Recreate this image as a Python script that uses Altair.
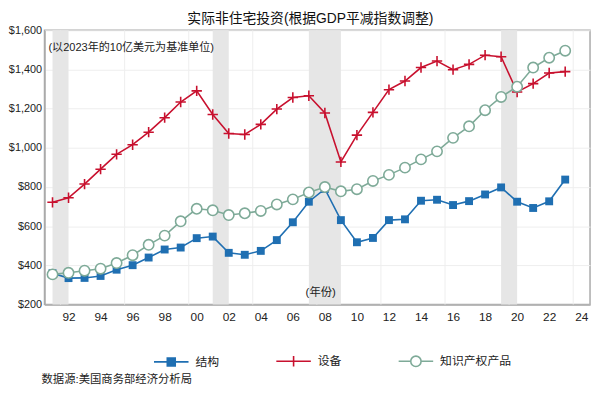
import altair as alt
import pandas as pd

# ---------------- data ----------------
years = list(range(1991, 2024))
structures = [360, 335, 336, 346, 378, 401, 440, 481, 491, 539, 547, 464, 454, 474, 529, 620,
              725, 790, 631, 518, 540, 631, 635, 730, 735, 708, 728, 762, 798, 725, 693, 727, 838]
equipment = [722, 745, 815, 891, 967, 1016, 1080, 1154, 1234, 1291, 1170, 1073, 1068, 1120, 1198, 1257,
             1266, 1178, 928, 1065, 1181, 1297, 1341, 1410, 1443, 1399, 1426, 1473, 1465, 1285, 1328, 1382, 1389]
ipp = [354, 362, 373, 383, 412, 452, 505, 552, 625, 689, 681, 657, 666, 678, 711, 737,
       772, 800, 778, 789, 831, 862, 899, 941, 982, 1051, 1110, 1192, 1260, 1312, 1410, 1460, 1496]

series_names = ["结构", "设备", "知识产权产品"]
series_colors = ["#1f6fb2", "#c8102e", "#7eaa98"]
series_fills = ["#1f6fb2", "transparent", "white"]

recession_start = [1991, 2001, 2007, 2019]
recession_end = [1992, 2002, 2009, 2020]

vgrid_years = [1991.5, 1995.5, 1999.5, 2003.5, 2007.5, 2011.5, 2015.5, 2019.5, 2023.5]
x_tick_years = list(range(1992, 2025, 2))
y_ticks = list(range(200, 1601, 200))

title_text = "实际非住宅投资(根据GDP平减指数调整)"
subtitle_text = "(以2023年的10亿美元为基准单位)"
xlabel_text = "(年份)"
source_text = "数据源:美国商务部经济分析局"

FONT = "Liberation Sans, Noto Sans CJK SC, sans-serif"

# ---------------- tables ----------------
df = pd.DataFrame({
    "year": years * 3,
    "value": structures + equipment + ipp,
    "series": [series_names[0]] * len(years) + [series_names[1]] * len(years) + [series_names[2]] * len(years),
})
bands = pd.DataFrame({"start": recession_start, "end": recession_end})
vgrid = pd.DataFrame({"g": vgrid_years})

x_scale = alt.Scale(domain=[1990.5, 2024.55], nice=False, zero=False)
y_scale = alt.Scale(domain=[200, 1600], nice=False, zero=False)

x_axis = alt.Axis(values=x_tick_years, labelExpr="substring(toString(datum.value), 2)", title=None,
                  grid=False, ticks=False, labelPadding=7, labelFontSize=12, labelColor="#222",
                  labelFont=FONT, domainColor="#aaaaaa", domainWidth=1.5)
y_axis = alt.Axis(values=y_ticks, labelExpr="'$' + format(datum.value, ',')", title=None,
                  grid=True, gridColor="#eeeeee", ticks=False, labelPadding=3, labelFontSize=11,
                  labelColor="#222", labelFont=FONT, domainColor="#aaaaaa", domainWidth=1.5)

# vertical grid lines
vgrid_layer = alt.Chart(vgrid).mark_rule(color="#eeeeee", strokeWidth=1).encode(
    x=alt.X("g:Q", scale=x_scale, axis=x_axis)
)

# recession bands
band_layer = alt.Chart(bands).mark_rect(color="#e6e6e6").encode(
    x=alt.X("start:Q", scale=x_scale, axis=x_axis),
    x2="end:Q",
)


def series_layers(name, color, point_kwargs):
    sub = df[df["series"] == name]
    line = alt.Chart(sub).mark_line(color=color, strokeWidth=1.6).encode(
        x=alt.X("year:Q", scale=x_scale, axis=x_axis),
        y=alt.Y("value:Q", scale=y_scale, axis=y_axis),
    )
    pts = alt.Chart(sub).mark_point(opacity=1, **point_kwargs).encode(
        x=alt.X("year:Q", scale=x_scale, axis=x_axis),
        y=alt.Y("value:Q", scale=y_scale, axis=y_axis),
    )
    return [line, pts]


struct_layers = series_layers(series_names[0], series_colors[0],
                              dict(shape="square", filled=True, color=series_colors[0], size=64))
equip_layers = series_layers(series_names[1], series_colors[1],
                             dict(shape="M-1,0H1M0,-1V1", filled=False, color=series_colors[1],
                                  size=110, strokeWidth=1.6))
ipp_layers = series_layers(series_names[2], series_colors[2],
                           dict(shape="circle", filled=True, fill="white", stroke=series_colors[2],
                                strokeWidth=1.6, size=110))

# legend-only layer
legend_paths = [
    "M-1,0H-0.23M0.23,0H1M-0.23,-0.23H0.23V0.23H-0.23Z",
    "M-1,0H1M0,-0.3V0.3",
    "M-1,0H-0.3M0.3,0H1M-0.3,0A0.3,0.3 0 1,0 0.3,0A0.3,0.3 0 1,0 -0.3,0Z",
]
leg = alt.Legend(title=None, orient="none", direction="horizontal", legendX=110, legendY=317,
                 symbolSize=1225, symbolStrokeWidth=1.6, labelFontSize=12, labelFont=FONT,
                 labelColor="#222", labelOffset=6, columnPadding=53, padding=0)
legend_layer = alt.Chart(df).transform_filter("false").mark_point(filled=False, opacity=1).encode(
    x=alt.X("year:Q", scale=x_scale, axis=x_axis),
    y=alt.Y("value:Q", scale=y_scale, axis=y_axis),
    color=alt.Color("series:N", scale=alt.Scale(domain=series_names, range=series_colors), legend=leg),
    fill=alt.Fill("series:N", scale=alt.Scale(domain=series_names, range=series_fills), legend=leg),
    shape=alt.Shape("series:N", scale=alt.Scale(domain=series_names, range=legend_paths), legend=leg),
)

# annotations
note_data = alt.Data(values=[{"t": 0}])
subtitle_layer = alt.Chart(note_data).mark_text(
    text=subtitle_text, align="left", baseline="middle", fontSize=11.2, font=FONT, color="#222"
).encode(x=alt.value(4), y=alt.value(18))
xlabel_layer = alt.Chart(note_data).mark_text(
    text=xlabel_text, align="center", baseline="middle", fontSize=11.5, font=FONT, color="#222"
).encode(x=alt.value(280), y=alt.value(266))
source_layer = alt.Chart(note_data).mark_text(
    text=source_text, align="left", baseline="middle", fontSize=11.5, font=FONT, color="#222"
).encode(x=alt.value(-3), y=alt.value(355))

chart = alt.layer(
    vgrid_layer, band_layer,
    *struct_layers, *equip_layers, *ipp_layers,
    legend_layer, subtitle_layer, xlabel_layer, source_layer,
).properties(
    width=553, height=278,
    title=alt.TitleParams(title_text, fontSize=14, font=FONT, fontWeight="normal", color="#111",
                          anchor="middle", offset=-2, dx=-7),
    padding={"left": 37, "top": 20, "right": 2, "bottom": 84},
    autosize=alt.AutoSizeParams(type="none"),
).configure_view(stroke="#aaaaaa", strokeWidth=1.5)

chart.save("out.html", embed_options={"renderer": "svg", "actions": False})
